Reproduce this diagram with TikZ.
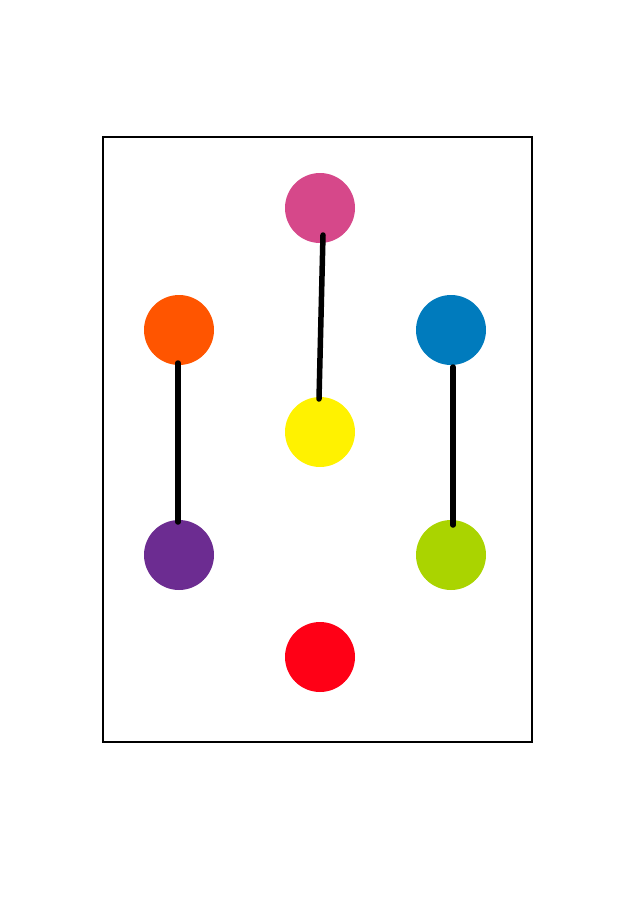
\documentclass[tikz,border=0pt]{standalone}
\usetikzlibrary{calc}
\definecolor{cpink}{HTML}{D6488A}
\definecolor{corange}{HTML}{FF5500}
\definecolor{cblue}{HTML}{007BBD}
\definecolor{cyellow}{HTML}{FFF200}
\definecolor{cpurple}{HTML}{6C2C91}
\definecolor{cgreen}{HTML}{AAD400}
\definecolor{cred}{HTML}{FF0016}
\tikzset{
  dot/.style={circle, minimum size=70pt, inner sep=0pt, fill=#1},
  link/.style={line width=5.5pt, black, line cap=round},
  frame/.style={line width=2.8pt, black}
}
\begin{document}
\begin{tikzpicture}[x=1pt,y=-1pt]
\useasboundingbox (0,0) rectangle (636,900);
\draw[frame] (103,137) rectangle (532,742);
\node[dot=cpink] (pink) at (320,208) {};
\node[dot=corange] (orange) at (179,330) {};
\node[dot=cblue] (blue) at (451,330) {};
\node[dot=cyellow] (yellow) at (320,432) {};
\node[dot=cpurple] (purple) at (179,555) {};
\node[dot=cgreen] (green) at (451,555) {};
\node[dot=cred] (red) at (320,657) {};
\coordinate (pa) at ($(pink.center)+(3,27)$);
\coordinate (pb) at ($(yellow.center)+(-1,-33)$);
\coordinate (oa) at ($(orange.center)+(-1,33)$);
\coordinate (ob) at ($(purple.center)+(-1,-33)$);
\coordinate (ba) at ($(blue.center)+(2,37)$);
\coordinate (bb) at ($(green.center)+(2,-30)$);
\draw[link] (pa) -- (pb);
\draw[link] (oa) -- (ob);
\draw[link] (ba) -- (bb);
\end{tikzpicture}
\end{document}
